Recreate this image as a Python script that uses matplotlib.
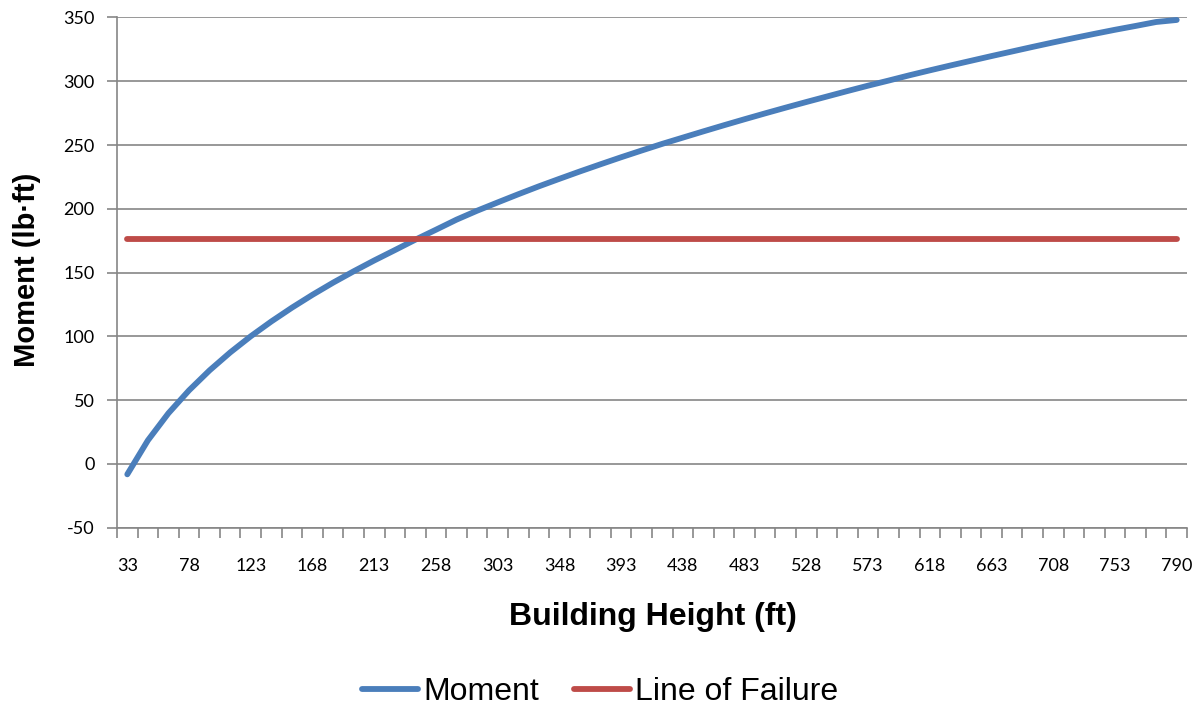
import matplotlib.pyplot as plt
from matplotlib.ticker import FixedLocator

plt.rcParams['axes.unicode_minus'] = False

# building heights (category axis, ft)
heights = [33, 48, 63, 78, 93, 108, 123, 138, 153, 168, 183, 198, 213, 228,
           243, 258, 273, 288, 303, 318, 333, 348, 363, 378, 393, 408, 423,
           438, 453, 468, 483, 498, 513, 528, 543, 558, 573, 588, 603, 618,
           633, 648, 663, 678, 693, 708, 723, 738, 753, 768, 783, 790]

# moment (lb-ft)
moment = [-8.1, 18.5, 39.8, 57.7, 73.4, 87.4, 100.1, 111.7, 122.5, 132.6,
          142.1, 151.0, 159.5, 167.6, 175.8, 183.6, 191.5, 198.5, 205.0, 211.4,
          217.6, 223.5, 229.3, 234.9, 240.4, 245.7, 250.9, 255.8, 260.7, 265.5,
          270.2, 274.8, 279.3, 283.7, 288.0, 292.3, 296.5, 300.5, 304.6, 308.5,
          312.3, 316.0, 319.7, 323.3, 326.9, 330.4, 333.8, 337.1, 340.3, 343.3,
          346.4, 348.0]

failure_moment = 176
failure = [failure_moment] * len(heights)

y_ticks = [-50, 0, 50, 100, 150, 200, 250, 300, 350]

blue = '#4a7ebb'
red = '#be4b48'
grid_col = '#868686'

fig = plt.figure(figsize=(12.03, 7.10), dpi=100)
ax = fig.add_axes([117 / 1203, 1 - 527.8 / 710, 1070 / 1203, 510.4 / 710])

x = list(range(len(heights)))
ax.plot(x, moment, color=blue, lw=4.2, solid_capstyle='round', label='Moment', zorder=3)
ax.plot(x, failure, color=red, lw=4.2, solid_capstyle='round', label='Line of Failure', zorder=3)

ax.set_xlim(-0.5, len(heights) - 0.5)
ax.set_ylim(-50, 350)
ax.set_yticks(y_ticks)
ax.yaxis.grid(True, color=grid_col, lw=1.2)
ax.set_axisbelow(True)

# labels every third category, tick marks between categories
label_idx = x[::3]
ax.set_xticks(label_idx)
ax.set_xticklabels([str(heights[i]) for i in label_idx])
ax.xaxis.set_minor_locator(FixedLocator([i - 0.5 for i in range(len(heights) + 1)]))
ax.tick_params(axis='x', which='major', length=0, pad=22)
ax.tick_params(axis='x', which='minor', length=7, width=1.2, color=grid_col, direction='out')
ax.tick_params(axis='y', length=7, width=1.2, color=grid_col, direction='out', pad=9)

for lab in ax.get_xticklabels() + ax.get_yticklabels():
    lab.set_fontfamily('Lato')
    lab.set_fontsize(13)
    lab.set_color('#000000')

for s in ['top', 'right']:
    ax.spines[s].set_visible(False)
for s in ['left', 'bottom']:
    ax.spines[s].set_color(grid_col)
    ax.spines[s].set_linewidth(1.2)

fig.text(653 / 1203, 1 - 617 / 710, 'Building Height (ft)', ha='center', va='center',
         fontsize=23, fontweight='bold', family='Liberation Sans')
fig.text(27 / 1203, 1 - 270 / 710, 'Moment (lb\u00b7ft)', ha='center', va='center',
         rotation=90, fontsize=21, fontweight='bold', family='Liberation Sans')

fig.legend(loc='center', bbox_to_anchor=(600 / 1203, 1 - 692 / 710), ncol=2,
           frameon=False, prop={'family': 'Liberation Sans', 'size': 23},
           handlelength=1.75, handletextpad=0.15, columnspacing=1.1)

fig.savefig('out.png', dpi=100)
